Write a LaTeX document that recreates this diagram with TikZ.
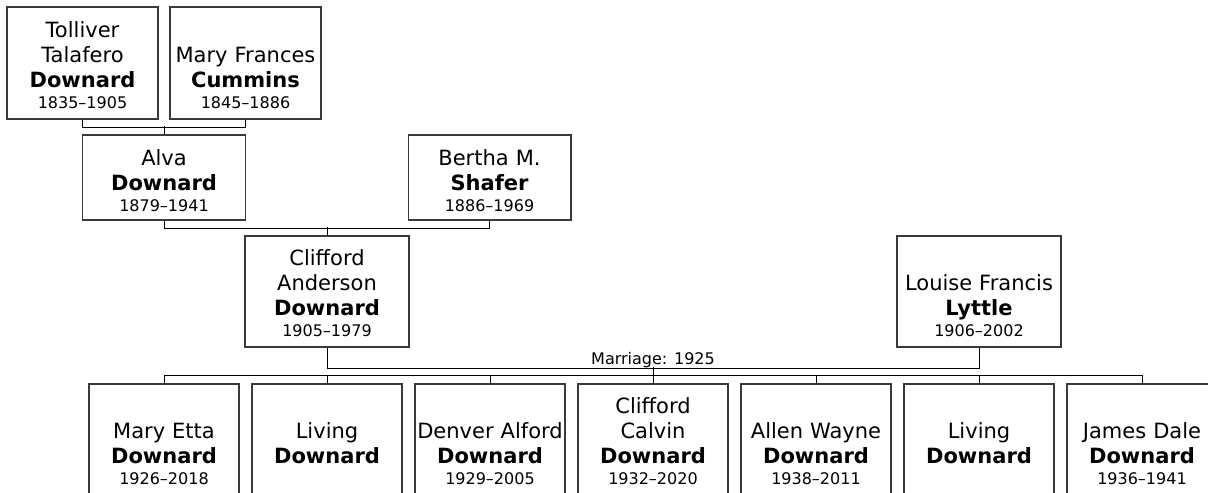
\documentclass[tikz,border=0pt]{standalone}
\usepackage{fontspec}
\setmainfont{DejaVu Sans}

\definecolor{boxgray}{HTML}{3A3A3A}
\newcommand{\yrs}[1]{{\fontsize{12}{14}\selectfont #1}}

\begin{document}
\begin{tikzpicture}[x=0.75pt,y=-0.75pt,
  person/.style={draw=boxgray, line width=1pt, inner sep=0pt, align=center,
    font=\fontsize{15.75}{19}\selectfont},
  genone/.style={person, text width=113.25pt, text height=22.5pt, text depth=61.5pt},
  gentwo/.style={person, text width=122pt, text height=22.5pt, text depth=41.25pt},
  genthree/.style={person, text width=123pt, text height=21.75pt, text depth=61.5pt},
  child/.style={person, text width=112.5pt, text height=21.75pt, text depth=61.5pt},
  link/.style={draw=black, line width=0.75pt}]
  \useasboundingbox (0,0) rectangle (1208,493);
  \clip (0,0) rectangle (1208,493);

  % grandparents
  \node[genone] (tt) at (82.5,63) {Tolliver\\Talafero\\\textbf{Downard}\\[-3.5pt]\yrs{1835--1905}};
  \node[genone] (mf) at (245.5,63) {\mbox{}\\Mary~Frances\\\textbf{Cummins}\\[-3.5pt]\yrs{1845--1886}};

  % parents
  \node[gentwo] (alva) at (164,177.5) {Alva\\\textbf{Downard}\\[-3.5pt]\yrs{1879--1941}};
  \node[gentwo] (bms) at (489.5,177.5) {Bertha~M.\\\textbf{Shafer}\\[-3.5pt]\yrs{1886--1969}};

  % couple
  \node[genthree] (caf) at (327,291.5) {Clifford\\Anderson\\\textbf{Downard}\\[-3.5pt]\yrs{1905--1979}};
  \node[genthree] (lfl) at (979,291.5) {\mbox{}\\Louise~Francis\\\textbf{Lyttle}\\[-3.5pt]\yrs{1906--2002}};

  % children
  \node[child] (me) at (164,439.5) {\mbox{}\\Mary~Etta\\\textbf{Downard}\\[-3.5pt]\yrs{1926--2018}};
  \node[child] (l1) at (327,439.5) {\mbox{}\\Living\\\textbf{Downard}};
  \node[child] (da) at (490,439.5) {\mbox{}\\Denver~Alford\\\textbf{Downard}\\[-3.5pt]\yrs{1929--2005}};
  \node[child] (cc) at (653,439.5) {Clifford\\Calvin\\\textbf{Downard}\\[-3.5pt]\yrs{1932--2020}};
  \node[child] (aw) at (816,439.5) {\mbox{}\\Allen~Wayne\\\textbf{Downard}\\[-3.5pt]\yrs{1938--2011}};
  \node[child] (l2) at (979,439.5) {\mbox{}\\Living\\\textbf{Downard}};
  \node[child] (jd) at (1142,439.5) {\mbox{}\\James~Dale\\\textbf{Downard}\\[-3.5pt]\yrs{1936--1941}};

  % lines
  \draw[link] (tt.south) -- ++(0,8) -| (mf.south);
  \draw[link] (alva.north) -- ++(0,-8);
  \draw[link] (alva.south) -- ++(0,8) -| (bms.south);
  \draw[link] (caf.north) -- ++(0,-8);
  \draw[link] (caf.south) -- ++(0,21) -| node[pos=0.25, above, inner sep=0pt, font=\fontsize{12}{14}\selectfont] {Marriage: 1925} (lfl.south);
  \draw[link] (cc.north) -- ++(0,-16);
  \draw[link] (me.north) -- ++(0,-8) -| (jd.north);
  \draw[link] (l1.north) -- ++(0,-8);
  \draw[link] (da.north) -- ++(0,-8);
  \draw[link] (aw.north) -- ++(0,-8);
  \draw[link] (l2.north) -- ++(0,-8);
\end{tikzpicture}
\end{document}
